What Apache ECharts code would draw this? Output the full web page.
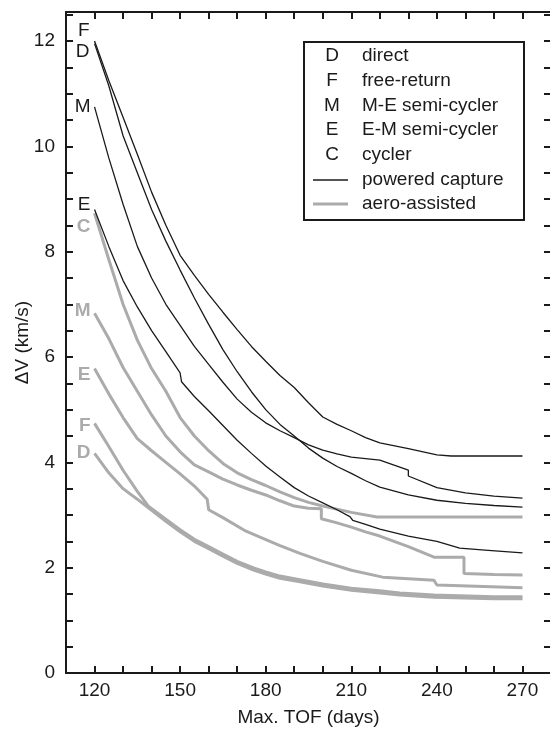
<!DOCTYPE html>
<html>
<head>
<meta charset="utf-8">
<script src="https://cdn.jsdelivr.net/npm/echarts@6/dist/echarts.min.js"></script>
<style>html,body{margin:0;padding:0;background:#fff;}#c{width:550px;height:732px;}</style>
</head>
<body>
<div id="c"></div>
<script>
// ---- data (days, ΔV km/s) ----
const xTickLabels = [120, 150, 180, 210, 240, 270];
const yTickLabels = [0, 2, 4, 6, 8, 10, 12];

// powered capture (black)
const pcF_days = [120,125,130,135,140,145,150,155,160,165,170,175,180,185,190,195,200,205,210,215,220,230,240,245,270];
const pcF_vals = [12.0,11.25,10.55,9.85,9.13,8.5,7.93,7.55,7.19,6.85,6.52,6.2,5.92,5.65,5.42,5.13,4.86,4.72,4.6,4.47,4.37,4.26,4.14,4.12,4.12];
const pcD_days = [120,125,130,135,140,145,150,155,160,165,170,175,180,185,190,195,200,205,210,215,220,230,240,250,260,270];
const pcD_vals = [11.95,11.15,10.2,9.5,8.8,8.2,7.65,7.12,6.62,6.14,5.72,5.34,5.0,4.72,4.5,4.27,4.08,3.92,3.79,3.65,3.53,3.38,3.28,3.22,3.18,3.15];
const pcM_days = [120,125,130,135,140,145,150,155,160,165,170,175,180,185,190,195,200,205,210,220,227,230,230,240,250,260,270];
const pcM_vals = [10.75,9.78,8.9,8.1,7.5,7.0,6.6,6.2,5.86,5.52,5.2,4.95,4.75,4.6,4.47,4.33,4.23,4.16,4.1,4.04,3.91,3.85,3.74,3.52,3.42,3.36,3.32];
const pcE_days = [120,125,130,135,140,145,150,150.5,155,160,165,170,175,180,185,190,195,200,205,209.5,210.5,215,220,230,240,248,258,270];
const pcE_vals = [8.8,8.1,7.45,6.95,6.5,6.1,5.7,5.53,5.25,4.98,4.7,4.42,4.17,3.93,3.72,3.52,3.36,3.23,3.1,2.97,2.9,2.82,2.73,2.6,2.5,2.37,2.33,2.28];

// aero-assisted (grey)
const aaC_days = [120,125,130,135,140,145,150,155,160,165,170,175,180,185,190,195,200,210,219,270];
const aaC_vals = [8.73,7.85,7.0,6.32,5.78,5.35,4.85,4.5,4.22,3.98,3.8,3.67,3.56,3.44,3.33,3.24,3.17,3.05,2.96,2.96];
const aaM_days = [120,125,130,135,140,145,150,155,160,165,170,175,180,185,190,195,199.5,199.5,205,210,215,220,230,239,249.5,249.5,260,270];
const aaM_vals = [6.83,6.35,5.8,5.35,4.9,4.5,4.2,3.95,3.82,3.68,3.57,3.47,3.38,3.27,3.17,3.13,3.12,2.93,2.85,2.77,2.68,2.6,2.4,2.2,2.2,1.89,1.87,1.86];
const aaE_days = [120,125,130,135,140,145,150,155,159.5,160,165,172.5,178,185,192,200,210,221,239,240,270];
const aaE_vals = [5.78,5.3,4.85,4.45,4.22,4.0,3.78,3.55,3.3,3.1,2.95,2.71,2.58,2.42,2.27,2.12,1.95,1.82,1.76,1.67,1.62];
const aaF_days = [120,125,130,135,139,145,150,155,160,165,170,176,180,185,192,200,210,220,227,239,260,270];
const aaF_vals = [4.74,4.3,3.85,3.45,3.16,2.92,2.72,2.54,2.4,2.26,2.12,1.99,1.92,1.84,1.77,1.69,1.61,1.56,1.52,1.48,1.45,1.45];
const aaD_days = [120,125,130,135,139,145,150,155,160,165,170,176,180,185,192,200,210,220,227,239,260,270];
const aaD_vals = [4.17,3.8,3.5,3.3,3.13,2.88,2.68,2.5,2.36,2.22,2.08,1.95,1.88,1.8,1.73,1.65,1.57,1.52,1.48,1.44,1.41,1.41];

const legendLetters = ['D','F','M','E','C'];
const legendNames = ['direct','free-return','M-E semi-cycler','E-M semi-cycler','cycler'];
const legendLines = ['powered capture','aero-assisted'];

const BLACK = '#1a1a1a', GREY = '#ababab';
const FONT = '"Liberation Sans", Arial, sans-serif';

function pts(d, v){ return d.map((x,i)=>[x, v[i]]); }
function series(name, d, v, color, width, letter, offset, bold){
  const data = pts(d, v);
  data[0] = { value: data[0], label: { show: true, position: 'left', distance: 4, offset: offset,
      formatter: letter, color: color, fontSize: 19, fontFamily: FONT, fontWeight: bold ? 'bold' : 'normal' } };
  return { type: 'line', name: name, data: data, showSymbol: true, showAllSymbol: true,
    symbol: 'circle', symbolSize: 0, itemStyle: { color: color },
    lineStyle: { color: color, width: width }, z: width > 2 ? 2 : 3, silent: true,
    label: { show: false }, emphasis: { disabled: true } };
}

const chart = echarts.init(document.getElementById('c'), null, { renderer: 'canvas' });
const axisLine = { show: true, onZero: false, lineStyle: { color: BLACK, width: 2 } };
const tickStyle = { show: true, inside: true, length: 7, lineStyle: { color: BLACK, width: 2 } };

const legendGraphics = [];
legendGraphics.push({ type: 'rect', left: 303, top: 41, shape: { width: 220, height: 178 },
  style: { fill: '#fff', stroke: BLACK, lineWidth: 2 }, z: 10 });
const rowY = [56, 81, 106, 130, 155, 180, 204];
legendLetters.forEach((l, i) => {
  legendGraphics.push({ type: 'text', x: 332, y: rowY[i], z: 11,
    style: { text: l, fill: BLACK, font: '19px ' + FONT, textAlign: 'center', textVerticalAlign: 'middle' } });
  legendGraphics.push({ type: 'text', x: 362, y: rowY[i], z: 11,
    style: { text: legendNames[i], fill: BLACK, font: '19px ' + FONT, textAlign: 'left', textVerticalAlign: 'middle' } });
});
legendLines.forEach((t, j) => {
  const y = rowY[5 + j];
  legendGraphics.push({ type: 'line', z: 11, shape: { x1: 313, y1: y, x2: 348, y2: y },
    style: { stroke: j === 0 ? BLACK : GREY, lineWidth: j === 0 ? 1.3 : 3 } });
  legendGraphics.push({ type: 'text', x: 362, y: y, z: 11,
    style: { text: t, fill: BLACK, font: '19px ' + FONT, textAlign: 'left', textVerticalAlign: 'middle' } });
});

chart.setOption({
  animation: false,
  backgroundColor: '#fff',
  grid: { left: 66, top: 12, width: 485, height: 661, containLabel: false, outerBoundsMode: 'none' },
  xAxis: [
    { type: 'value', min: 110, max: 280, interval: 10, position: 'bottom',
      name: 'Max. TOF (days)', nameLocation: 'middle', nameGap: 35, nameMoveOverlap: false,
      nameTextStyle: { fontSize: 19, fontFamily: FONT, color: BLACK },
      axisLine: axisLine, axisTick: tickStyle, splitLine: { show: false },
      axisLabel: { margin: 8, fontSize: 19, fontFamily: FONT, color: BLACK,
        formatter: v => xTickLabels.indexOf(v) >= 0 ? String(v) : '' } },
    { type: 'value', min: 110, max: 280, interval: 10, position: 'top',
      axisLine: axisLine, axisTick: tickStyle, splitLine: { show: false }, axisLabel: { show: false } }
  ],
  yAxis: [
    { type: 'value', min: 0, max: 12.55, interval: 0.5, position: 'left',
      name: 'ΔV (km/s)', nameLocation: 'middle', nameGap: 34, nameRotate: 90, nameMoveOverlap: false,
      nameTextStyle: { fontSize: 19, fontFamily: FONT, color: BLACK },
      axisLine: axisLine, axisTick: tickStyle, splitLine: { show: false },
      axisLabel: { margin: 11, fontSize: 19, fontFamily: FONT, color: BLACK, showMaxLabel: false,
        formatter: v => yTickLabels.indexOf(v) >= 0 ? String(v) : '' } },
    { type: 'value', min: 0, max: 12.55, interval: 0.5, position: 'right',
      axisLine: axisLine, axisTick: tickStyle, splitLine: { show: false }, axisLabel: { show: false } }
  ],
  series: [
    series('aa-C', aaC_days, aaC_vals, GREY, 3, 'C', [0, 14], true),
    series('aa-M', aaM_days, aaM_vals, GREY, 3, 'M', [0, -3], true),
    series('aa-E', aaE_days, aaE_vals, GREY, 3, 'E', [0, 6], true),
    series('aa-F', aaF_days, aaF_vals, GREY, 3, 'F', [0, 2], true),
    series('aa-D', aaD_days, aaD_vals, GREY, 3, 'D', [0, -1], true),
    series('pc-F', pcF_days, pcF_vals, BLACK, 1.3, 'F', [-1, -10], false),
    series('pc-D', pcD_days, pcD_vals, BLACK, 1.3, 'D', [-1, 8], false),
    series('pc-M', pcM_days, pcM_vals, BLACK, 1.3, 'M', [0, 0], false),
    series('pc-E', pcE_days, pcE_vals, BLACK, 1.3, 'E', [0, -5], false)
  ],
  graphic: legendGraphics
});
</script>
</body>
</html>
